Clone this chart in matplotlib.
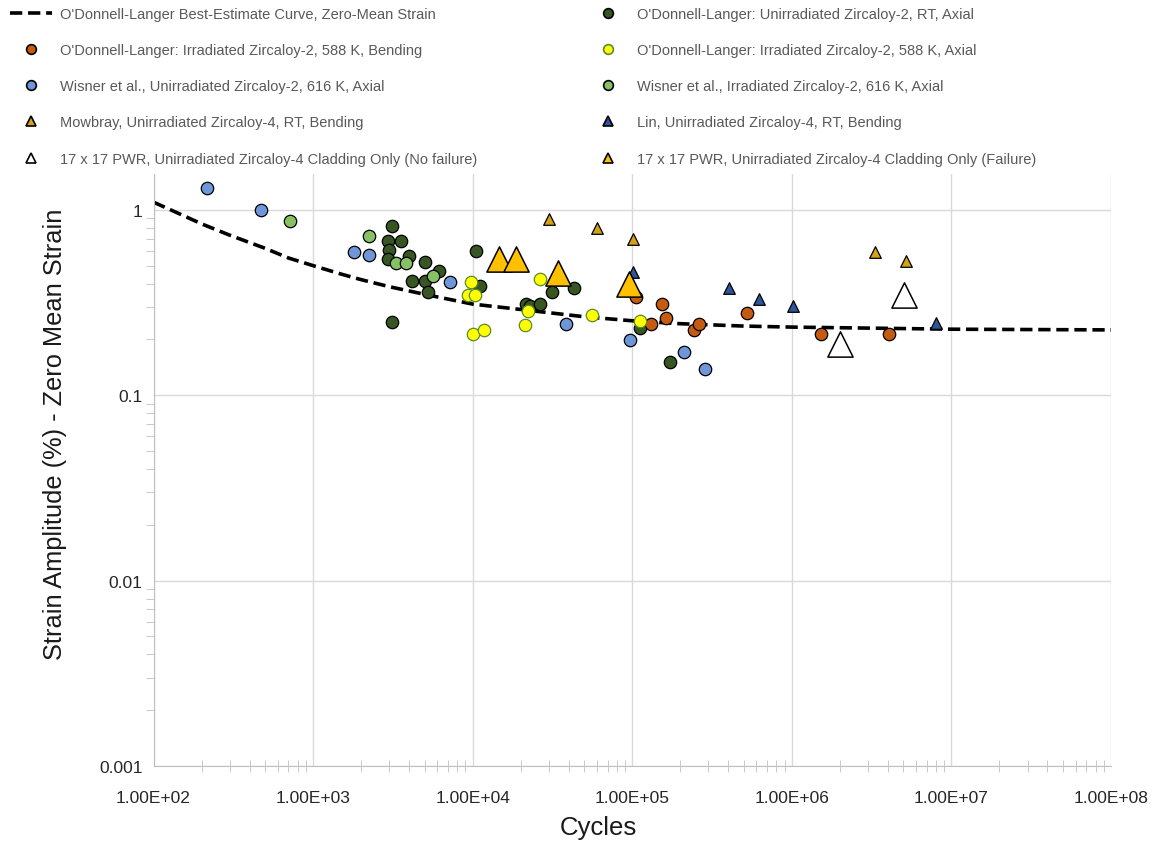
import numpy as np
import matplotlib.pyplot as plt
from matplotlib.lines import Line2D

plt.rcParams['font.family'] = ['Liberation Sans', 'DejaVu Sans']

# O'Donnell-Langer best-estimate curve
curve_n = [1e2, 1.5e2, 2e2, 3e2, 5e2, 7e2, 1e3, 1.5e3, 2e3, 3e3, 5e3, 7e3,
           1e4, 2e4, 5e4, 1e5, 2e5, 5e5, 1e6, 1e7, 1e8]
curve_s = [1.10, 0.94, 0.84, 0.73, 0.62, 0.55, 0.50, 0.45, 0.42, 0.385, 0.35, 0.33,
           0.31, 0.29, 0.265, 0.252, 0.243, 0.236, 0.233, 0.227, 0.225]

# O'Donnell-Langer: unirradiated Zircaloy-2, RT, axial
odl_unirr_ax_n = [3140, 2951, 3546, 3006, 2965, 3963, 5036, 6163, 4160, 5036, 5280,
                  3140, 10510, 11140, 21500, 22900, 26250, 31500, 42850, 111200, 172000]
odl_unirr_ax_s = [0.82, 0.678, 0.678, 0.604, 0.542, 0.565, 0.524, 0.465, 0.411, 0.411, 0.361,
                  0.247, 0.601, 0.386, 0.31, 0.303, 0.31, 0.361, 0.377, 0.231, 0.151]

# O'Donnell-Langer: irradiated Zircaloy-2, 588 K, bending
odl_irr_bend_n = [106000, 152900, 162700, 131500, 242000, 263000, 526000, 1.52e6, 4.05e6]
odl_irr_bend_s = [0.337, 0.31, 0.261, 0.242, 0.225, 0.242, 0.277, 0.215, 0.215]

# O'Donnell-Langer: irradiated Zircaloy-2, 588 K, axial
odl_irr_ax_n = [9770, 9330, 10380, 10120, 11860, 22200, 21400, 26250, 55800, 111700]
odl_irr_ax_s = [0.409, 0.347, 0.347, 0.215, 0.225, 0.285, 0.239, 0.426, 0.27, 0.25]

# Wisner et al., unirradiated Zircaloy-2, 616 K, axial
wis_unirr_n = [215, 472, 1800, 2255, 7230, 38200, 96200, 210000, 287000]
wis_unirr_s = [1.31, 1.0, 0.589, 0.57, 0.409, 0.241, 0.198, 0.17, 0.139]

# Wisner et al., irradiated Zircaloy-2, 616 K, axial
wis_irr_n = [718, 2232, 3296, 3810, 5680]
wis_irr_s = [0.866, 0.718, 0.518, 0.518, 0.44]

# Mowbray, unirradiated Zircaloy-4, RT, bending
mow_n = [30200, 60300, 101400, 3.33e6, 5.18e6]
mow_s = [0.891, 0.793, 0.692, 0.593, 0.531]

# Lin, unirradiated Zircaloy-4, RT, bending
lin_n = [101400, 402000, 622000, 1.01e6, 8.0e6]
lin_s = [0.463, 0.377, 0.33, 0.303, 0.245]

# 17 x 17 PWR cladding only
pwr_nofail_n = [2.01e6, 5.02e6]
pwr_nofail_s = [0.188, 0.349]
pwr_fail_n = [14520, 18750, 34200, 95700]
pwr_fail_s = [0.545, 0.545, 0.459, 0.397]

fig = plt.figure(figsize=(11.56, 8.45), dpi=100)
ax = fig.add_axes([153.5 / 1156, 1 - 767 / 845, (1111 - 153.5) / 1156, (767 - 175) / 845])

ax.set_xscale('log')
ax.set_yscale('log')
ax.set_xlim(1e2, 1e8)
ax.set_ylim(1e-3, 1.56)

dash = (0, (3.4, 1.6))
ax.plot(curve_n, curve_s, color='black', lw=2.6, ls=dash, zorder=2)

small = 80
tri = 70
big = 330
ek = dict(edgecolors='black', linewidths=0.9, zorder=3)
ax.scatter(odl_unirr_ax_n, odl_unirr_ax_s, s=small, c='#375623', marker='o', **ek)
ax.scatter(odl_irr_bend_n, odl_irr_bend_s, s=small, c='#C55A11', marker='o', **ek)
ax.scatter(odl_irr_ax_n, odl_irr_ax_s, s=small, c='#FFFF00', marker='o',
           edgecolors='#5B8A2E', linewidths=0.9, zorder=3)
ax.scatter(wis_unirr_n, wis_unirr_s, s=small, c='#6F96D8', marker='o', **ek)
ax.scatter(wis_irr_n, wis_irr_s, s=small, c='#86C265', marker='o', **ek)
ax.scatter(mow_n, mow_s, s=tri, c='#D4A017', marker='^', **ek)
ax.scatter(lin_n, lin_s, s=tri, c='#2F5597', marker='^', **ek)
ax.scatter(pwr_nofail_n, pwr_nofail_s, s=big, c='white', marker='^',
           edgecolors='black', linewidths=1.1, zorder=3)
ax.scatter(pwr_fail_n, pwr_fail_s, s=big, c='#FFC000', marker='^',
           edgecolors='black', linewidths=1.1, zorder=3)

# axes styling (Excel-like)
ax.grid(True, which='major', color='#D9D9D9', lw=1)
ax.set_axisbelow(True)
for side in ['top', 'right']:
    ax.spines[side].set_visible(False)
for side in ['left', 'bottom']:
    ax.spines[side].set_color('#BFBFBF')
ax.tick_params(which='major', length=0, labelsize=12.5, labelcolor='#262626', pad=8)
ax.tick_params(axis='x', which='minor', direction='inout', length=8, color='#BFBFBF')
ax.tick_params(axis='y', which='minor', direction='out', length=6, color='#BFBFBF')
ax.tick_params(axis='x', which='major', pad=17)
ax.tick_params(which='minor', labelbottom=False, labelleft=False)

ax.set_xticks([1e2, 1e3, 1e4, 1e5, 1e6, 1e7, 1e8])
ax.set_xticklabels(['1.00E+02', '1.00E+03', '1.00E+04', '1.00E+05',
                    '1.00E+06', '1.00E+07', '1.00E+08'])
ax.set_yticks([1e-3, 1e-2, 1e-1, 1])
ax.set_yticklabels(['0.001', '0.01', '0.1', '1'])

fig.text(55 / 1156, 1 - 434 / 845, 'Strain Amplitude (%) - Zero Mean Strain',
         rotation=90, ha='center', va='center', fontsize=18.3, color='#1a1a1a')
fig.text(598 / 1156, 1 - 828 / 845, 'Cycles', ha='center', va='center',
         fontsize=18.5, color='#1a1a1a')

# legend, two columns
def mk(marker, fc, ec='black', ms=7):
    return Line2D([], [], ls='none', marker=marker, markerfacecolor=fc,
                  markeredgecolor=ec, markersize=ms, markeredgewidth=1.2)

h1 = [Line2D([], [], color='black', lw=2.6, ls=dash),
      mk('o', '#C55A11'), mk('o', '#6F96D8'), mk('^', '#D4A017'), mk('^', 'white')]
l1 = ["O'Donnell-Langer Best-Estimate Curve, Zero-Mean Strain",
      "O'Donnell-Langer: Irradiated Zircaloy-2, 588 K, Bending",
      "Wisner et al., Unirradiated Zircaloy-2, 616 K, Axial",
      "Mowbray, Unirradiated Zircaloy-4, RT, Bending",
      "17 x 17 PWR, Unirradiated Zircaloy-4 Cladding Only (No failure)"]
h2 = [mk('o', '#375623'), mk('o', '#FFFF00', ec='#5B8A2E'), mk('o', '#86C265'),
      mk('^', '#2F5597'), mk('^', '#FFC000')]
l2 = ["O'Donnell-Langer: Unirradiated Zircaloy-2, RT, Axial",
      "O'Donnell-Langer: Irradiated Zircaloy-2, 588 K, Axial",
      "Wisner et al., Irradiated Zircaloy-2, 616 K, Axial",
      "Lin, Unirradiated Zircaloy-4, RT, Bending",
      "17 x 17 PWR, Unirradiated Zircaloy-4 Cladding Only (Failure)"]

common = dict(frameon=False, fontsize=10.5, labelcolor='#595959', handlelength=2.9,
              handletextpad=0.5, labelspacing=1.52, borderpad=0, borderaxespad=0,
              loc='upper left')
leg1 = fig.legend(h1, l1, bbox_to_anchor=(10 / 1156, 1 - 8 / 845), **common)
leg2 = fig.legend(h2, l2, bbox_to_anchor=(587 / 1156, 1 - 8 / 845), **common)

fig.savefig('out.png', dpi=100)
